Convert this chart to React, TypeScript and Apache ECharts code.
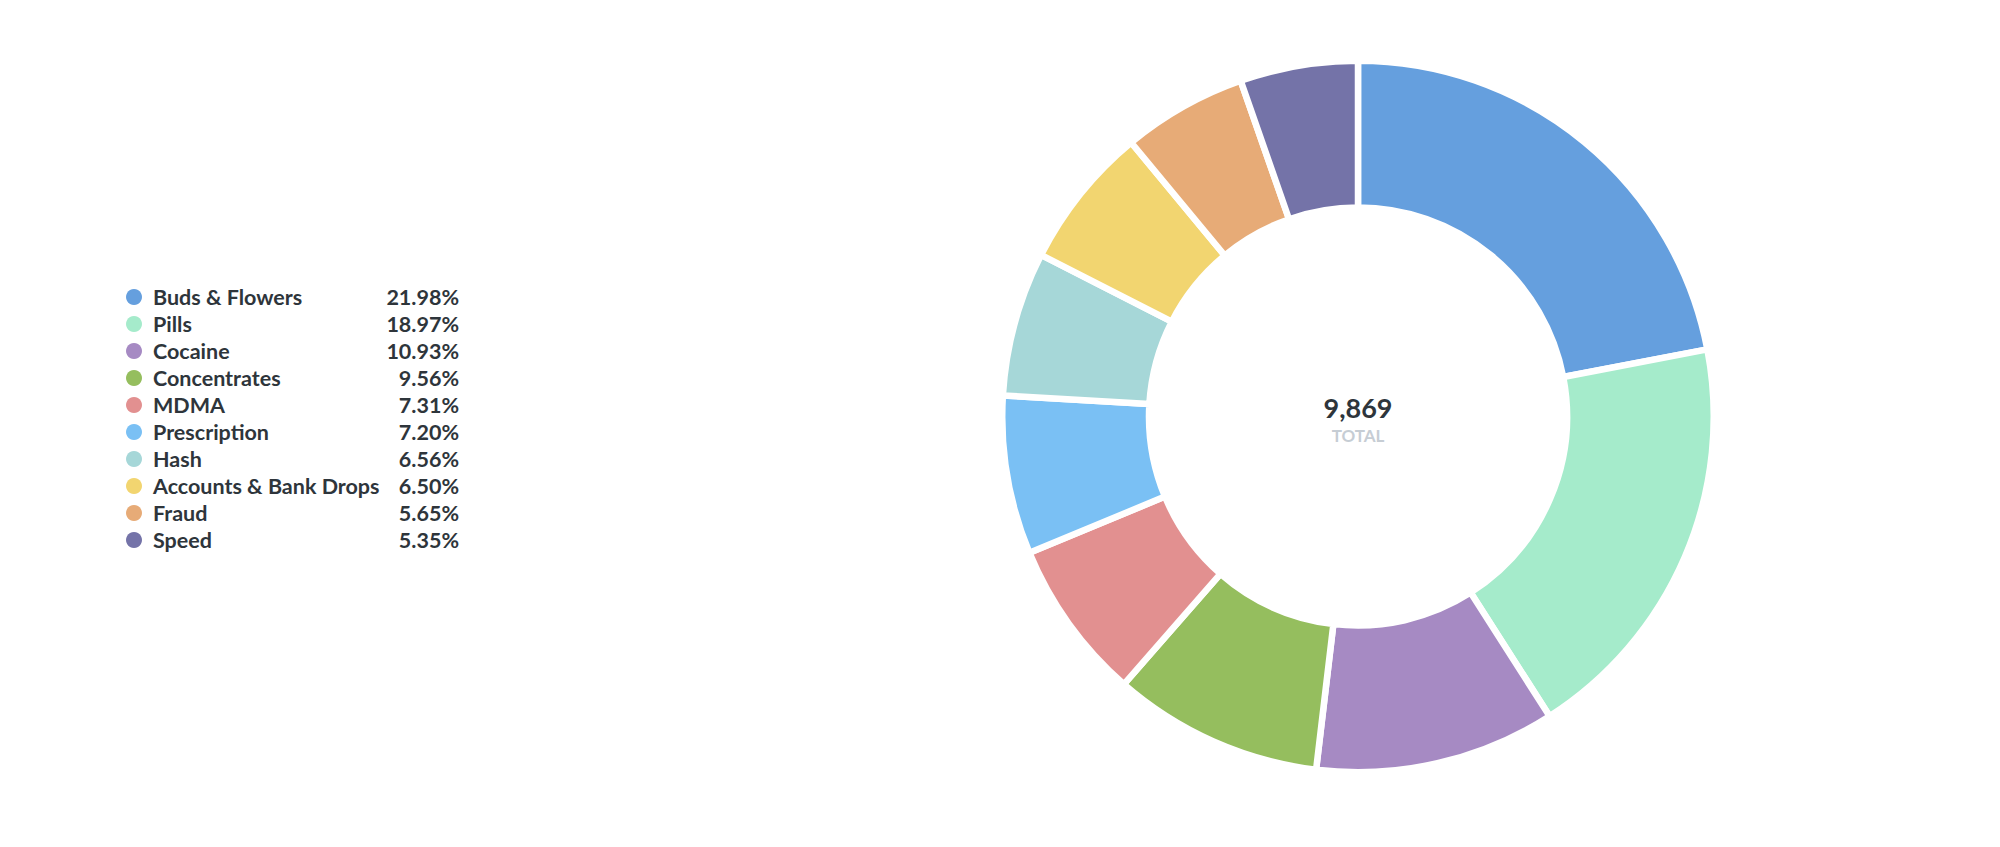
import React, { useEffect, useRef } from "react";
import * as echarts from "echarts";

const categories = [
  "Buds & Flowers",
  "Pills",
  "Cocaine",
  "Concentrates",
  "MDMA",
  "Prescription",
  "Hash",
  "Accounts & Bank Drops",
  "Fraud",
  "Speed",
];
const values = [2169, 1872, 1079, 943, 721, 711, 647, 641, 558, 528];
const colors = [
  "#659FDE",
  "#A5EBCB",
  "#A68AC3",
  "#95BE5E",
  "#E29090",
  "#7AC0F4",
  "#A6D7D8",
  "#F2D570",
  "#E7AB77",
  "#7473A8",
];
const totalLabel = "TOTAL";

export default function App() {
  const ref = useRef<HTMLDivElement>(null);
  useEffect(() => {
    if (!ref.current) return;
    const chart = echarts.init(ref.current, null, { renderer: "svg" });
    const total = values.reduce((a, b) => a + b, 0);
    const pct: Record<string, string> = {};
    categories.forEach((c, i) => {
      pct[c] = ((values[i] / total) * 100).toFixed(2) + "%";
    });
    const font = "Lato, 'Noto Sans', sans-serif";
    chart.setOption({
      animation: false,
      color: colors,
      legend: {
        orient: "vertical",
        left: 126,
        top: 286,
        padding: 0,
        icon: "circle",
        itemWidth: 16,
        itemHeight: 16,
        itemGap: 5,
        itemStyle: { borderWidth: 0 },
        selectedMode: false,
        data: categories,
        formatter: (name: string) => `{n|${name}}{p|${pct[name]}}`,
        textStyle: {
          fontFamily: font,
          rich: {
            n: {
              width: 236,
              padding: [0, 0, 0, 6],
              fontFamily: font,
              fontSize: 21.5,
              fontWeight: "bold",
              color: "#2E353B",
              lineHeight: 22,
            },
            p: {
              width: 70,
              align: "right",
              fontFamily: font,
              fontSize: 21.5,
              fontWeight: "bold",
              color: "#2E353B",
              lineHeight: 22,
            },
          },
        },
      },
      graphic: [
        {
          type: "text",
          x: 1358,
          y: 407,
          style: {
            text: total.toLocaleString("en-US"),
            fontFamily: font,
            fontSize: 27,
            fontWeight: "bold",
            fill: "#2E353B",
            align: "center",
            verticalAlign: "middle",
          },
        },
        {
          type: "text",
          x: 1358,
          y: 435,
          style: {
            text: totalLabel,
            fontFamily: font,
            fontSize: 17,
            fontWeight: "bold",
            fill: "#C6CDD4",
            align: "center",
            verticalAlign: "middle",
          },
        },
      ],
      series: [
        {
          type: "pie",
          center: [1358, 416.5],
          radius: [209, 355.75],
          startAngle: 90,
          clockwise: true,
          label: { show: false },
          labelLine: { show: false },
          emphasis: { disabled: true },
          itemStyle: { borderColor: "#ffffff", borderWidth: 6.5 },
          data: categories.map((c, i) => ({ name: c, value: values[i] })),
        },
      ],
    });
    return () => chart.dispose();
  }, []);
  return (
    <div
      ref={ref}
      style={{ position: "fixed", left: 0, top: 0, width: 2000, height: 847, background: "#fff" }}
    />
  );
}
